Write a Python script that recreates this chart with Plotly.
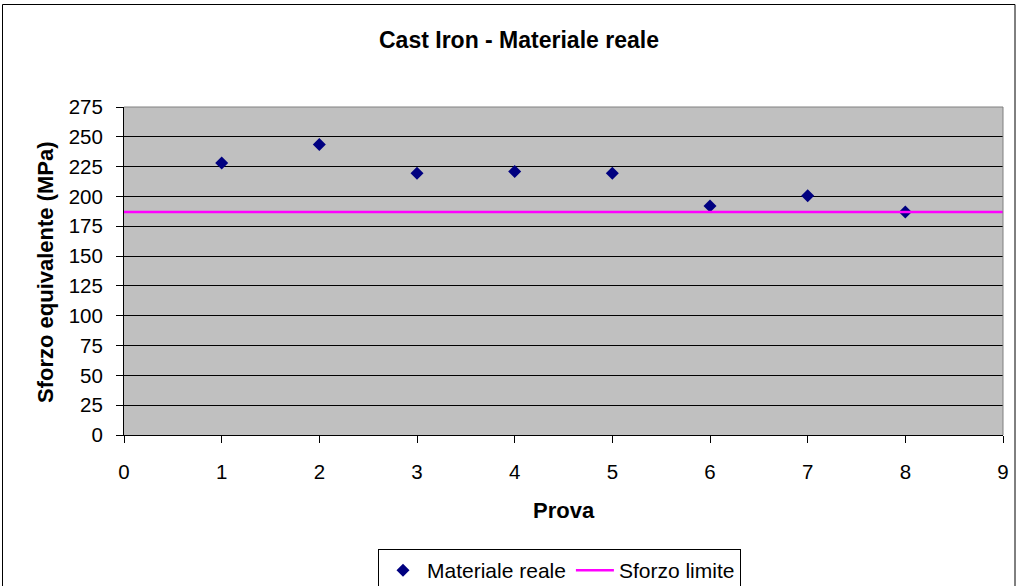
import plotly.graph_objects as go

prova = [1, 2, 3, 4, 5, 6, 7, 8]
materiale_reale = [228, 243.5, 219.5, 221, 219.5, 192, 200.5, 187]
limite_x = [0, 1, 2, 3, 4, 5, 6, 7, 8, 9]
sforzo_limite = [187] * len(limite_x)
x_ticks = list(range(0, 10))
y_ticks = list(range(0, 276, 25))

FONT = "Liberation Sans, Arial, sans-serif"
W, H = 1017, 586
L, R, T, B = 124, 1003, 107, 435
pw, ph = R - L, B - T

def px(x):
    return (x - L) / pw

def py(y):
    return (B - y) / ph

fig = go.Figure()
fig.add_trace(go.Scatter(
    x=prova, y=materiale_reale, mode="markers", name="Materiale reale",
    marker=dict(symbol="diamond", size=10, color="#000080", line=dict(width=0)),
))
fig.add_trace(go.Scatter(
    x=limite_x, y=sforzo_limite, mode="lines", name="Sforzo limite",
    line=dict(color="#FF00FF", width=2.5),
))

fig.update_layout(
    width=W, height=H,
    margin=dict(l=L, r=W - R, t=T, b=H - B, pad=0, autoexpand=False),
    paper_bgcolor="white",
    plot_bgcolor="#C0C0C0",
    font=dict(family=FONT, size=20, color="black"),
    showlegend=True,
    legend=dict(
        orientation="h", x=px(378), y=py(549), xanchor="left", yanchor="top",
        bgcolor="white", bordercolor="black", borderwidth=1,
        font=dict(size=21), itemwidth=38, tracegroupgap=0,
    ),
    xaxis=dict(
        range=[0, 9], tickvals=x_ticks, showgrid=False, zeroline=False,
        showline=True, linecolor="black", linewidth=1,
        ticks="outside", ticklen=7, tickcolor="black", tickwidth=1,
        tickfont=dict(size=20.5), ticklabelstandoff=11, fixedrange=True,
    ),
    yaxis=dict(
        range=[0, 275], tickvals=y_ticks, showgrid=True, gridcolor="black",
        gridwidth=1, zeroline=False,
        showline=True, linecolor="black", linewidth=1,
        ticks="outside", ticklen=7, tickcolor="black", tickwidth=1,
        tickfont=dict(size=20.5), ticklabelstandoff=9, fixedrange=True,
    ),
    annotations=[
        dict(text="<b>Cast Iron - Materiale reale</b>", xref="paper", yref="paper",
             x=px(518.5), y=py(40), xanchor="center", yanchor="middle",
             showarrow=False, font=dict(size=23)),
        dict(text="<b>Prova</b>", xref="paper", yref="paper",
             x=px(564), y=py(510), xanchor="center", yanchor="middle",
             showarrow=False, font=dict(size=22)),
        dict(text="<b>Sforzo equivalente (MPa)</b>", xref="paper", yref="paper",
             x=px(45), y=py(272), xanchor="center", yanchor="middle",
             textangle=-90, showarrow=False, font=dict(size=22)),
    ],
    shapes=[
        dict(type="rect", xref="paper", yref="paper",
             x0=px(2.5), x1=px(1015), y0=py(600), y1=py(4.5),
             line=dict(color="black", width=1), fillcolor="rgba(0,0,0,0)", layer="below"),
        dict(type="line", xref="paper", yref="paper", x0=0, x1=1, y0=1, y1=1,
             line=dict(color="#808080", width=1)),
        dict(type="line", xref="paper", yref="paper", x0=1, x1=1, y0=0, y1=1,
             line=dict(color="#808080", width=1)),
    ],
)

fig.write_html("out.html")
